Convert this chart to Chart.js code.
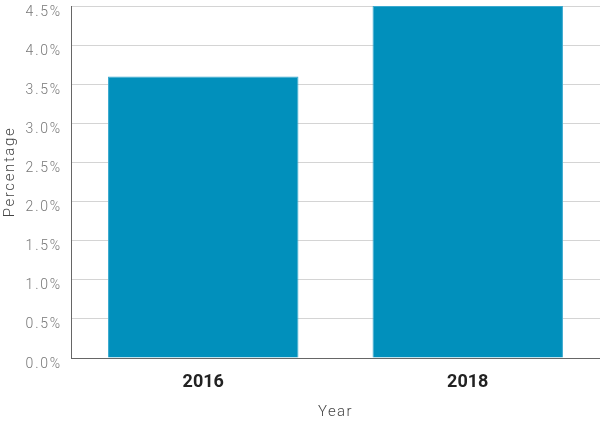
<!DOCTYPE html>
<html><head><meta charset="utf-8">
<script src="https://cdn.jsdelivr.net/npm/chart.js@4/dist/chart.umd.min.js"></script>
<style>html,body{margin:0;padding:0;background:#fff}#w{width:600px;height:421px}</style>
</head><body><div id="w"><canvas id="c"></canvas></div>
<script>
const categories = ['2016', '2018'];
const percentages = [3.6, 4.5];
const yTicks = [0, 0.5, 1.0, 1.5, 2.0, 2.5, 3.0, 3.5, 4.0, 4.5];

function withSpacing(scale, name, spacing, dy) {
  const orig = scale[name].bind(scale);
  scale[name] = function (ca) {
    const ctx = scale.ctx;
    ctx.save();
    ctx.letterSpacing = spacing;
    if (dy) ctx.translate(0, dy);
    orig(ca);
    ctx.restore();
  };
}

const spacingPlugin = {
  id: 'spacing',
  afterLayout(chart) {
    const y = chart.scales.y, x = chart.scales.x;
    if (!y._spaced) {
      withSpacing(y, 'drawLabels', '1.8px', 0);
      withSpacing(y, 'drawTitle', '1.6px', -10);
      withSpacing(x, 'drawTitle', '1.4px', 0);
      y._spaced = true;
    }
  }
};

new Chart(document.getElementById('c'), {
  type: 'bar',
  data: {
    labels: categories,
    datasets: [{
      data: percentages,
      backgroundColor: '#0190BC',
      borderColor: '#3AA9CF',
      borderWidth: 1,
      barPercentage: 0.72,
      categoryPercentage: 1.0
    }]
  },
  plugins: [spacingPlugin],
  options: {
    responsive: true,
    maintainAspectRatio: false,
    animation: false,
    layout: { padding: { top: 6, right: 0, left: 0, bottom: 0 } },
    plugins: { legend: { display: false }, tooltip: { enabled: false } },
    scales: {
      x: {
        afterFit: (s) => { s.height = 63; s.paddingLeft = 0; s.paddingRight = 0; },
        grid: { display: false, drawTicks: false },
        border: { color: '#666', width: 1 },
        ticks: { color: '#222', font: { family: 'Roboto', size: 18, weight: 'bold' }, padding: 14 },
        title: { display: true, text: 'Year', color: '#444', font: { family: 'Roboto', size: 15, weight: 300 }, padding: { top: 0, bottom: 0 } }
      },
      y: {
        min: 0, max: 4.5,
        afterBuildTicks: (s) => { s.ticks = yTicks.map(v => ({ value: v })); },
        afterFit: (s) => { s.width = 71; s.paddingTop = 0; s.paddingBottom = 0; },
        grid: { color: '#d4d4d4', drawTicks: false },
        border: { color: '#666', width: 1 },
        ticks: { color: '#777', font: { family: 'Roboto', size: 14, weight: 300 }, padding: 9, labelOffset: 6,
          callback: (v) => Number(v).toFixed(1) + '%' },
        title: { display: true, text: 'Percentage', color: '#444', font: { family: 'Roboto', size: 15, weight: 300 }, padding: { top: 1, bottom: 0 } }
      }
    }
  }
});
</script></body></html>
